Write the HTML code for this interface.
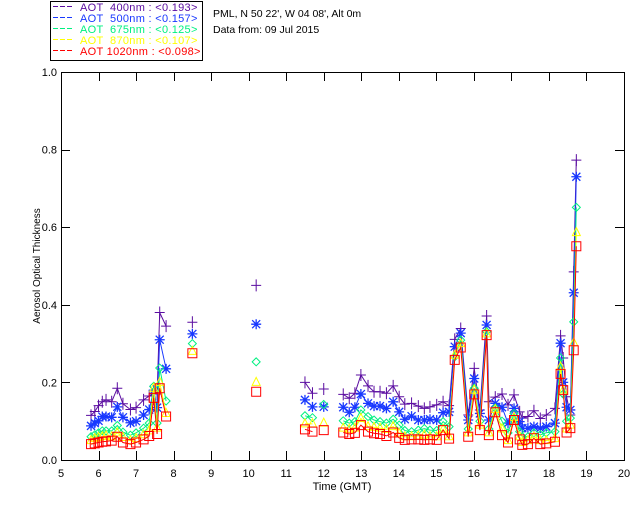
<!DOCTYPE html>
<html><head><meta charset="utf-8"><style>
html,body{margin:0;padding:0;background:#fff;}
svg{display:block;font-family:"Liberation Sans",sans-serif;}
</style></head><body>
<svg id="chart" width="640" height="512" viewBox="0 0 640 512" xmlns="http://www.w3.org/2000/svg">
<rect x="0" y="0" width="640" height="512" fill="#fff"/>
<g id="legend">
<rect x="50.5" y="1.5" width="152" height="59" fill="#fff" stroke="#000" stroke-width="1"/>
</g>
<text x="213" y="17" font-size="10.5" fill="#000">PML, N 50 22', W 04 08', Alt 0m</text>
<text x="213" y="33" font-size="10.5" fill="#000">Data from: 09 Jul 2015</text>
<g id="axes"></g>
<g id="series"></g>
<text x="342" y="490" font-size="11" text-anchor="middle">Time (GMT)</text>
<text x="0" y="0" font-size="10" text-anchor="middle" transform="translate(40,266) rotate(-90)">Aerosol Optical Thickness</text>
</svg>
<script>
const times = [5.8,5.9,6.0,6.1,6.2,6.35,6.5,6.65,6.85,7.0,7.2,7.35,7.47,7.56,7.63,7.8,
 8.5,10.2, 11.5,11.7,12.0,
 12.52,12.68,12.83,12.99,13.18,13.34,13.5,13.67,13.85,14.01,14.16,14.34,14.52,14.68,14.83,15.01,15.18,
 15.34,15.49,15.65,15.85,16.01,16.16,16.34,16.4,16.57,16.75,16.91,17.07,17.22,17.29,17.44,17.6,17.77,17.93,18.16,18.31,18.38,18.47,18.57,18.66,18.73];
const aot400 = [.115,.125,.14,.15,.155,.15,.185,.145,.13,.135,.155,.165,.17,.17,.38,.345,
 .355,.45, .2,.172,.183,
 .169,.159,.172,.219,.191,.176,.176,.172,.191,.163,.144,.146,.139,.133,.137,.142,.150,
 .14,.311,.339,.116,.236,.129,.371,.15,.162,.170,.142,.168,.124,.108,.112,.127,.107,.116,.133,.320,.263,.163,.116,.485,.773];
const aot500 = [.088,.095,.101,.112,.112,.11,.137,.11,.096,.10,.116,.13,.18,.135,.31,.235,
 .325,.35, .155,.137,.137,
 .136,.123,.136,.170,.146,.139,.139,.133,.150,.124,.105,.113,.103,.103,.105,.103,.122,
 .124,.292,.327,.103,.21,.12,.348,.103,.146,.136,.095,.133,.099,.082,.082,.086,.082,.086,.095,.301,.2,.136,.129,.431,.730];
const aot675 = [.06,.065,.07,.075,.075,.075,.089,.072,.064,.07,.082,.095,.19,.095,.237,.152,
 .3,.253, .114,.109,.143,
 .101,.095,.099,.129,.112,.103,.099,.095,.105,.090,.076,.073,.077,.081,.077,.076,.099,
 .086,.266,.309,.08,.185,.1,.331,.08,.134,.1,.07,.12,.073,.06,.06,.07,.065,.07,.073,.263,.17,.1,.108,.356,.651];
const aot870 = [.05,.055,.058,.06,.062,.06,.07,.058,.05,.055,.065,.075,.185,.082,.2,.12,
 .28,.2, .093,.093,.095,
 .082,.079,.082,.107,.086,.084,.082,.079,.086,.069,.06,.06,.062,.064,.06,.06,.079,
 .06,.27,.3,.07,.18,.09,.325,.07,.13,.08,.05,.11,.06,.045,.05,.06,.05,.05,.055,.24,.18,.08,.09,.302,.586];
const aot1020 = [.041,.043,.045,.047,.048,.05,.06,.045,.041,.045,.053,.062,.16,.067,.185,.112,
 .275,.176, .079,.073,.077,
 .071,.067,.070,.090,.073,.069,.067,.062,.071,.057,.052,.053,.053,.052,.053,.052,.077,
 .055,.258,.29,.06,.169,.077,.322,.064,.123,.064,.045,.103,.053,.039,.041,.056,.041,.043,.047,.222,.18,.071,.082,.283,.551];
const xTicks = [5,6,7,8,9,10,11,12,13,14,15,16,17,18,19,20];
const yTicks = ["0.0","0.2","0.4","0.6","0.8","1.0"];
const legendLabels = ["AOT  400nm : <0.193>","AOT  500nm : <0.157>","AOT  675nm : <0.125>","AOT  870nm : <0.107>","AOT 1020nm : <0.098>"];

const NS="http://www.w3.org/2000/svg";
const L=61,R=624,T=72,B=460;
function xs(t){return L+(t-5)/15*(R-L);}
function ys(v){return B-v*(B-T);}
function mk(tag,attrs,parent){const e=document.createElementNS(NS,tag);for(const k in attrs)e.setAttribute(k,attrs[k]);parent.appendChild(e);return e;}

const axes=document.getElementById('axes');
const frame=mk('rect',{x:L+.5,y:T+.5,width:R-L,height:B-T,fill:'none',stroke:'#000','stroke-width':1},axes);


xTicks.forEach(t=>{
  const x=Math.round(xs(t))+.5;
  const tk=mk('path',{d:`M${x},${B}V${B-9}M${x},${T}V${T+9}`,stroke:'#000','stroke-width':1},axes);
  
  
  const lb=mk('text',{x:xs(t),y:B+17,'font-size':11,'text-anchor':'middle'},axes);
  lb.textContent=String(t);
  
  
});
yTicks.forEach(s=>{
  const v=parseFloat(s);const y=Math.round(ys(v))+.5;
  const tk=mk('path',{d:`M${L},${y}H${L+9}M${R},${y}H${R-9}`,stroke:'#000','stroke-width':1},axes);
  
  
  const lb=mk('text',{x:L-4,y:ys(v)+4,'font-size':11,'text-anchor':'end'},axes);
  lb.textContent=s;
  
  
});

const seriesDefs=[
 {vals:aot400,color:'#5a0ca0',marker:'plus',name:'aot-400nm'},
 {vals:aot500,color:'#1838ff',marker:'star',name:'aot-500nm'},
 {vals:aot675,color:'#00f080',marker:'diamond',name:'aot-675nm'},
 {vals:aot870,color:'#ffff00',marker:'triangle',name:'aot-870nm'},
 {vals:aot1020,color:'#ff0000',marker:'square',name:'aot-1020nm'}];
const sg=document.getElementById('series');
function marker(kind,x,y,c,g){
  let d;
  if(kind==='plus')d=`M${x-5},${y}H${x+5}M${x},${y-6}V${y+6}`;
  else if(kind==='star')d=`M${x-5},${y}H${x+5}M${x},${y-5}V${y+5}M${x-4},${y-4}L${x+4},${y+4}M${x-4},${y+4}L${x+4},${y-4}`;
  else if(kind==='diamond')d=`M${x},${y-4}L${x+4},${y}L${x},${y+4}L${x-4},${y}Z`;
  else if(kind==='triangle')d=`M${x},${y-5}L${x+4},${y+3}L${x-4},${y+3}Z`;
  else d=`M${x-4.5},${y-4.5}h9v9h-9Z`;
  const m=mk('path',{d:d,fill:'none',stroke:c,'stroke-width':kind==='star'?1.3:1},g);
  
  
}
seriesDefs.forEach((s,si)=>{
  const g=mk('g',{},sg);
  
  
  let d='';
  for(let i=0;i<times.length;i++){
    const x=xs(times[i]).toFixed(1),y=ys(s.vals[i]).toFixed(1);
    const conn=i>0&&times[i]-times[i-1]<0.25;
    d+=(conn?'L':'M')+x+','+y;
  }
  const ln=mk('path',{d:d,fill:'none',stroke:s.color,'stroke-width':1},g);
  
  
  for(let i=0;i<times.length;i++)marker(s.marker,xs(times[i]),ys(s.vals[i]),s.color,g);
  const lg=document.getElementById('legend');
  const yy=10+si*11;
  const ll=mk('path',{d:`M53,${yy-3.5}H74`,stroke:s.color,'stroke-width':1,'stroke-dasharray':'5,2'},lg);
  
  
  const lt=mk('text',{x:80,y:yy+1,'font-size':11,fill:s.color,'letter-spacing':'0.3'},lg);
  lt.setAttribute('style','white-space:pre');
  lt.textContent=legendLabels[si];
  
  
});
</script>
</body></html>
